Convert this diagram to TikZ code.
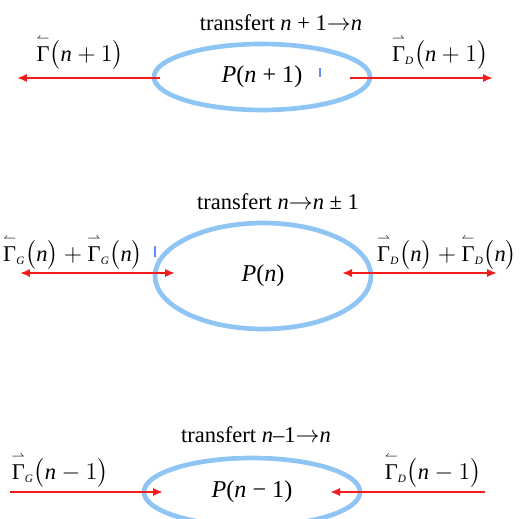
\documentclass[tikz,border=0pt]{standalone}
\usepackage{amsmath}
\usepackage{fontspec}
\setmainfont{Liberation Serif}
\usetikzlibrary{positioning,arrows.meta,shapes.geometric}
\definecolor{popblue}{HTML}{8EC5F5}
\definecolor{fluxred}{HTML}{F21C1C}
\newcommand{\lgam}{\overset{\scriptscriptstyle\leftharpoonup}{\text{Γ}}}
\newcommand{\rgam}{\overset{\scriptscriptstyle\rightharpoonup}{\text{Γ}}}
\newcommand{\sub}[1]{_{\scriptscriptstyle\textit{#1}}}
\newcommand{\nn}{\text{\itshape n}}

\begin{document}
\begin{tikzpicture}[x=0.6pt,y=-0.6pt,every node/.style={font=\fontsize{13.5}{15}\selectfont},
   popul/.style={draw=popblue,line width=2.8pt,ellipse,inner sep=0pt,minimum width=129.6pt,
      font=\fontsize{14.5}{16}\selectfont},
   flux/.style={draw=fluxred,line width=1.7pt,-{Latex[length=6pt,width=5pt]}},
   flux2/.style={flux,{Latex[length=6pt,width=5pt]}-{Latex[length=6pt,width=5pt]}},
   tick/.style={draw=popblue!70!blue,line width=0.8pt}]
      \useasboundingbox (0,0) rectangle (525,519);
      % n+1 -> n
      \node[popul,minimum height=39.6pt] (pup) at (262,77) {\textit{P}(\textit{n} + 1)};
      \node (tup) at (281,23) {transfert \textit{n} + 1$\rightarrow$\textit{n}};
      \coordinate (upL0) at (160,78); \coordinate (upL1) at (17,78);
      \coordinate (upR0) at (350,78); \coordinate (upR1) at (493,78);
      \draw[flux] (upL0) -- (upL1);
      \draw[flux] (upR0) -- (upR1);
      \node (gupL) at (80,52) {$\lgam\bigl(\nn+1\bigr)$};
      \node (gupR) at (440,52) {$\rgam\sub{D}\bigl(\nn+1\bigr)$};
      \draw[tick] (320,68) -- (320,77);
      % n -> n +- 1
      \node[popul,minimum height=63.6pt] (pmid) at (263,276) {\textit{P}(\textit{n})};
      \node (tmid) at (278,202) {transfert \textit{n}$\rightarrow$\textit{n} ± 1};
      \coordinate (midL0) at (20,273); \coordinate (midL1) at (175,273);
      \coordinate (midR0) at (342,273); \coordinate (midR1) at (497,273);
      \draw[flux2] (midL0) -- (midL1);
      \draw[flux2] (midR0) -- (midR1);
      \node (gmidL) at (73,252) {$\lgam\sub{G}\bigl(\nn\bigr)+\rgam\sub{G}\bigl(\nn\bigr)$};
      \node (gmidR) at (447,252) {$\rgam\sub{D}\bigl(\nn\bigr)+\lgam\sub{D}\bigl(\nn\bigr)$};
      \draw[tick] (155,246) -- (155,257);
      % n-1 -> n
      \node[popul,minimum height=40.8pt] (pdown) at (252,492) {\textit{P}(\textit{n} − 1)};
      \node (tdown) at (256,435) {transfert \textit{n}–1$\rightarrow$\textit{n}};
      \coordinate (dnL0) at (10,492); \coordinate (dnL1) at (163,492);
      \coordinate (dnR0) at (485,492); \coordinate (dnR1) at (330,492);
      \draw[flux] (dnL0) -- (dnL1);
      \draw[flux] (dnR0) -- (dnR1);
      \node (gdnL) at (60,470) {$\rgam\sub{G}\bigl(\nn-1\bigr)$};
      \node (gdnR) at (433,470) {$\lgam\sub{D}\bigl(\nn-1\bigr)$};
    \end{tikzpicture}
\end{document}
